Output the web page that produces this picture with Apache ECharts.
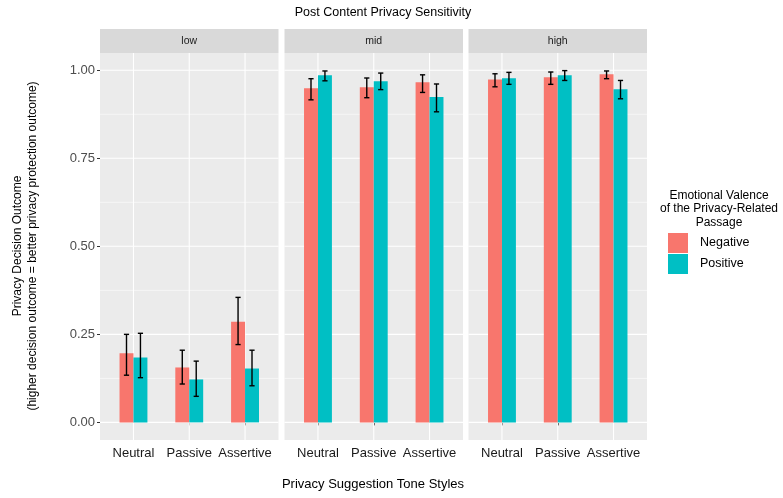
<!DOCTYPE html>
<html>
<head>
<meta charset="utf-8">
<script src="https://cdn.jsdelivr.net/npm/echarts@6/dist/echarts.min.js"></script>
<style>
  html, body { margin: 0; padding: 0; background: #ffffff; }
  #chart { width: 783px; height: 498px; }
</style>
</head>
<body>
<div id="chart"></div>
<script>
// Categories and facet levels
const toneStyles = ['Neutral', 'Passive', 'Assertive'];
const sensitivityLevels = ['low', 'mid', 'high'];
const valenceLabels = ['Negative', 'Positive'];
const yTicks = [0, 0.25, 0.5, 0.75, 1];
const yMinorLines = [0.125, 0.375, 0.625, 0.875];

// Mean outcome: rows = sensitivity level (low, mid, high), columns = tone style
const negativeMean = [[0.196, 0.156, 0.286], [0.949, 0.952, 0.966], [0.974, 0.980, 0.989]];
const positiveMean = [[0.184, 0.122, 0.153], [0.986, 0.969, 0.924], [0.977, 0.986, 0.946]];

// Error bar bounds
const negativeLower = [[0.134, 0.109, 0.221], [0.916, 0.922, 0.937], [0.953, 0.960, 0.976]];
const negativeUpper = [[0.250, 0.205, 0.355], [0.976, 0.978, 0.987], [0.990, 0.995, 0.998]];
const positiveLower = [[0.127, 0.074, 0.104], [0.970, 0.945, 0.882], [0.960, 0.971, 0.919]];
const positiveUpper = [[0.253, 0.174, 0.205], [0.998, 0.992, 0.961], [0.994, 0.999, 0.971]];

const FONT = '"Liberation Sans", Arial, Helvetica, sans-serif';
const COLORS = ['#F8766D', '#00BFC4'];
const BAR_W = 0.25;           // width of one dodged bar, in category units
const PANEL_LEFT = [100, 284.5, 468.5];
const PANEL_W = 178.5;
const PANEL_TOP = 53;
const PANEL_H = 387;

const chart = echarts.init(document.getElementById('chart'), null, { renderer: 'canvas' });

function gridRenderer(params, api) {
  const cs = params.coordSys;
  const v = api.value(0);
  const kind = api.value(1);
  if (kind === 2) {
    const x = api.coord([v, 0])[0];
    return { type: 'line', shape: { x1: x, y1: cs.y, x2: x, y2: cs.y + cs.height },
      style: { stroke: '#ffffff', lineWidth: 1.1 }, silent: true };
  }
  const y = api.coord([1, v])[1];
  return { type: 'line', shape: { x1: cs.x, y1: y, x2: cs.x + cs.width, y2: y },
    style: { stroke: '#ffffff', lineWidth: kind === 0 ? 1.1 : 0.55 }, silent: true };
}

function barRenderer(side) {
  return function (params, api) {
    const c = api.value(0), v = api.value(1);
    const x0 = side < 0 ? c - BAR_W : c;
    const p0 = api.coord([x0, v]);
    const p1 = api.coord([x0 + BAR_W, 0]);
    return { type: 'rect',
      shape: { x: p0[0], y: p0[1], width: p1[0] - p0[0], height: p1[1] - p0[1] },
      style: { fill: api.visual('color') } };
  };
}

function errorRenderer(side) {
  return function (params, api) {
    const x = api.value(0) + side * BAR_W / 2;
    const lo = api.coord([x, api.value(1)]);
    const hi = api.coord([x, api.value(2)]);
    const hw = 2.6;
    const st = { stroke: '#000000', lineWidth: 1.4 };
    return { type: 'group', children: [
      { type: 'line', shape: { x1: lo[0], y1: lo[1], x2: hi[0], y2: hi[1] }, style: st },
      { type: 'line', shape: { x1: lo[0] - hw, y1: lo[1], x2: lo[0] + hw, y2: lo[1] }, style: st },
      { type: 'line', shape: { x1: hi[0] - hw, y1: hi[1], x2: hi[0] + hw, y2: hi[1] }, style: st }
    ] };
  };
}

const grids = [], xAxes = [], yAxes = [], series = [], graphics = [];

sensitivityLevels.forEach(function (level, p) {
  grids.push({ left: PANEL_LEFT[p], top: PANEL_TOP, width: PANEL_W, height: PANEL_H,
    show: true, backgroundColor: '#EBEBEB', borderWidth: 0, containLabel: false });

  xAxes.push({ gridIndex: p, type: 'value', min: 0.4, max: 3.6,
    axisLine: { show: false }, splitLine: { show: false },
    axisTick: { show: true, length: 3, customValues: [1, 2, 3], lineStyle: { color: '#333333', width: 1 } },
    axisLabel: { show: true, customValues: [1, 2, 3], margin: 7,
      formatter: function (v) { return toneStyles[Math.round(v) - 1] || ''; },
      fontFamily: FONT, fontSize: 13, color: '#1A1A1A' } });

  yAxes.push({ gridIndex: p, type: 'value', min: -0.05, max: 1.049,
    axisLine: { show: false }, splitLine: { show: false },
    axisTick: { show: p === 0, length: 3, customValues: yTicks, lineStyle: { color: '#333333', width: 1 } },
    axisLabel: { show: p === 0, customValues: yTicks, margin: 5,
      formatter: function (v) { return v.toFixed(2); },
      fontFamily: FONT, fontSize: 13, color: '#4D4D4D' } });

  const gridData = yTicks.map(v => [v, 0])
    .concat(yMinorLines.map(v => [v, 1]))
    .concat(toneStyles.map((t, i) => [i + 1, 2]));
  series.push({ type: 'custom', name: 'grid-' + level, xAxisIndex: p, yAxisIndex: p,
    renderItem: gridRenderer, data: gridData, z: 1, silent: true, tooltip: { show: false } });

  const means = [negativeMean[p], positiveMean[p]];
  const lowers = [negativeLower[p], positiveLower[p]];
  const uppers = [negativeUpper[p], positiveUpper[p]];
  [-1, 1].forEach(function (side, k) {
    series.push({ type: 'custom', name: valenceLabels[k], xAxisIndex: p, yAxisIndex: p,
      itemStyle: { color: COLORS[k] }, z: 2,
      renderItem: barRenderer(side),
      data: means[k].map((v, i) => [i + 1, v]) });
  });
  [-1, 1].forEach(function (side, k) {
    series.push({ type: 'custom', name: 'err-' + valenceLabels[k] + '-' + level, xAxisIndex: p, yAxisIndex: p,
      z: 3, silent: true, renderItem: errorRenderer(side),
      data: lowers[k].map((lo, i) => [i + 1, lo, uppers[k][i]]) });
  });

  // facet strip
  graphics.push({ type: 'rect', left: PANEL_LEFT[p], top: 29,
    shape: { width: PANEL_W, height: 24 }, style: { fill: '#D9D9D9' } });
  graphics.push({ type: 'text', x: PANEL_LEFT[p] + PANEL_W / 2, y: 41,
    style: { text: level, fill: '#1A1A1A', font: '10.5px ' + FONT, textAlign: 'center', textVerticalAlign: 'middle' } });
});

// axis titles and legend title
graphics.push({ type: 'text', x: 373, y: 484,
  style: { text: 'Privacy Suggestion Tone Styles', fill: '#000000', font: '13px ' + FONT,
    textAlign: 'center', textVerticalAlign: 'middle' } });
graphics.push({ type: 'text', x: 25, y: 246, rotation: Math.PI / 2,
  style: { text: 'Privacy Decision Outcome\n(higher decision outcome = better privacy protection outcome)',
    fill: '#000000', font: '12px ' + FONT, lineHeight: 15, textAlign: 'center', textVerticalAlign: 'middle' } });
graphics.push({ type: 'text', x: 719, y: 209,
  style: { text: 'Emotional Valence\nof the Privacy-Related\nPassage', fill: '#000000',
    font: '12px ' + FONT, lineHeight: 13.5, textAlign: 'center', textVerticalAlign: 'middle' } });

chart.setOption({
  animation: false,
  backgroundColor: '#ffffff',
  title: { text: 'Post Content Privacy Sensitivity', left: 378, top: 1, textAlign: 'center',
    textStyle: { fontFamily: FONT, fontSize: 12.5, fontWeight: 'normal', color: '#000000' } },
  legend: { data: valenceLabels, orient: 'vertical', left: 668, top: 233, padding: 0,
    icon: 'rect', itemWidth: 20, itemHeight: 20, itemGap: 1, selectedMode: false,
    textStyle: { fontFamily: FONT, fontSize: 12.5, color: '#000000', padding: [0, 0, 0, 7] } },
  grid: grids,
  xAxis: xAxes,
  yAxis: yAxes,
  series: series,
  graphic: graphics
});
</script>
</body>
</html>
